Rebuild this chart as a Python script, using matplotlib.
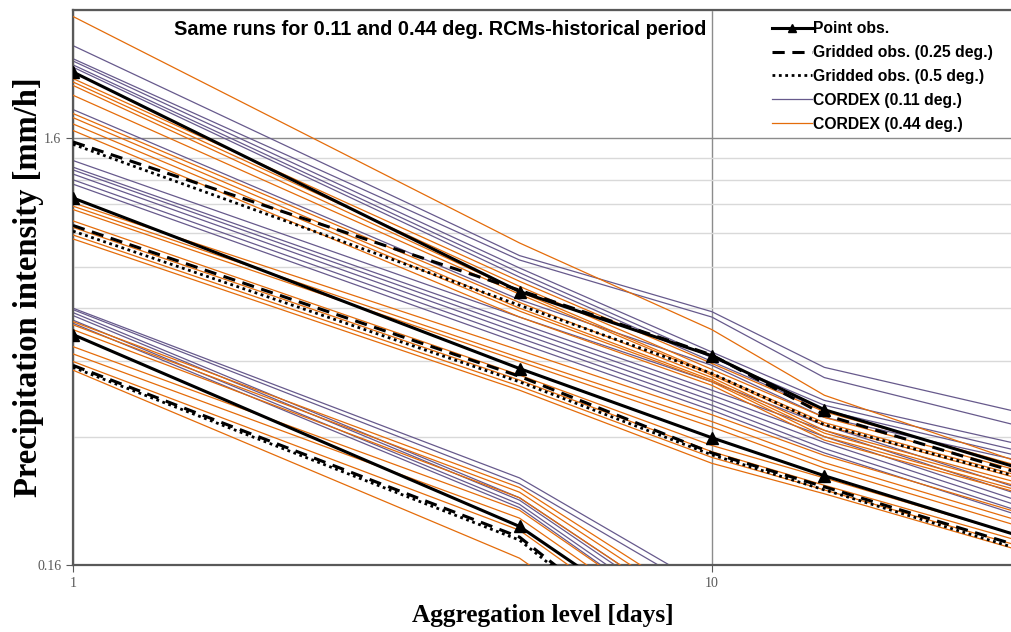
import matplotlib
matplotlib.use('Agg')
import matplotlib.pyplot as plt
from matplotlib.ticker import FixedLocator, NullFormatter

# aggregation levels [days]
days = [1, 5, 10, 15, 30]

# point observations (upper, middle, lower group)
point_top = [2.29, 0.70, 0.495, 0.37, 0.271]
point_mid = [1.16, 0.462, 0.318, 0.259, 0.188]
point_low = [0.555, 0.197, 0.097, 0.068, 0.036]

# gridded observations 0.25 deg
grid025_top = [1.57, 0.705, 0.497, 0.36, 0.264]
grid025_mid = [1.00, 0.443, 0.293, 0.244, 0.178]
grid025_low = [0.47, 0.186, 0.082, 0.06, 0.035]

# gridded observations 0.5 deg
grid05_top = [1.55, 0.65, 0.45, 0.341, 0.258]
grid05_mid = [0.97, 0.43, 0.29, 0.24, 0.175]
grid05_low = [0.465, 0.183, 0.08, 0.058, 0.034]

# CORDEX 0.11 deg runs
cordex011_top = [
    [2.64, 0.85, 0.628, 0.465, 0.366],
    [2.46, 0.83, 0.61, 0.44, 0.34],
    [2.43, 0.795, 0.505, 0.389, 0.308],
    [2.38, 0.775, 0.49, 0.379, 0.297],
    [2.35, 0.757, 0.48, 0.369, 0.289],
    [1.87, 0.67, 0.47, 0.355, 0.282],
]
cordex011_mid = [
    [1.42, 0.61, 0.43, 0.34, 0.243],
    [1.37, 0.59, 0.411, 0.331, 0.235],
    [1.35, 0.575, 0.40, 0.32, 0.227],
    [1.32, 0.56, 0.389, 0.31, 0.221],
    [1.28, 0.545, 0.379, 0.30, 0.215],
    [1.25, 0.53, 0.369, 0.293, 0.21],
]
cordex011_low = [
    [0.64, 0.256, 0.14, 0.10, 0.055],
    [0.635, 0.248, 0.135, 0.095, 0.05],
    [0.625, 0.23, 0.115, 0.082, 0.046],
    [0.615, 0.227, 0.112, 0.08, 0.045],
    [0.60, 0.222, 0.108, 0.075, 0.042],
    [0.59, 0.218, 0.105, 0.072, 0.04],
]

# CORDEX 0.44 deg runs
cordex044_top = [
    [3.09, 0.91, 0.57, 0.40, 0.28],
    [2.21, 0.74, 0.475, 0.366, 0.274],
    [2.17, 0.72, 0.46, 0.355, 0.267],
    [2.13, 0.70, 0.45, 0.345, 0.26],
    [2.02, 0.69, 0.446, 0.34, 0.256],
    [1.83, 0.66, 0.44, 0.331, 0.25],
    [1.79, 0.64, 0.434, 0.326, 0.245],
    [1.73, 0.63, 0.43, 0.32, 0.24],
    [1.67, 0.61, 0.422, 0.314, 0.237],
]
cordex044_mid = [
    [1.13, 0.51, 0.36, 0.289, 0.213],
    [1.11, 0.49, 0.347, 0.278, 0.204],
    [1.09, 0.48, 0.337, 0.27, 0.198],
    [1.025, 0.446, 0.305, 0.256, 0.188],
    [0.99, 0.434, 0.295, 0.246, 0.183],
    [0.95, 0.42, 0.286, 0.24, 0.178],
    [0.93, 0.411, 0.277, 0.235, 0.174],
]
cordex044_low = [
    [0.595, 0.243, 0.125, 0.088, 0.048],
    [0.585, 0.237, 0.12, 0.085, 0.046],
    [0.57, 0.23, 0.115, 0.082, 0.045],
    [0.52, 0.215, 0.105, 0.075, 0.042],
    [0.50, 0.206, 0.10, 0.071, 0.04],
    [0.48, 0.193, 0.092, 0.066, 0.037],
    [0.458, 0.166, 0.08, 0.058, 0.033],
]

PURPLE = '#675a8c'
ORANGE = '#e46c0a'
AXGRAY = '#595959'

fig = plt.figure(figsize=(10.12, 6.32), dpi=100)
ax = fig.add_axes([73 / 1012, 67 / 632, 939 / 1012, 555 / 632])
ax.set_xscale('log')
ax.set_yscale('log')
ax.set_xlim(1, 29.5)
ax.set_ylim(0.16, 3.2)

# CORDEX runs
for i, run in enumerate(cordex011_top + cordex011_mid + cordex011_low):
    ax.plot(days, run, color=PURPLE, lw=0.9, zorder=2,
            label='CORDEX (0.11 deg.)' if i == 0 else None)
for i, run in enumerate(cordex044_top + cordex044_mid + cordex044_low):
    ax.plot(days, run, color=ORANGE, lw=0.9, zorder=3,
            label='CORDEX (0.44 deg.)' if i == 0 else None)

# gridded obs
for i, g in enumerate([grid025_top, grid025_mid, grid025_low]):
    ax.plot(days, g, color='black', lw=2.2, ls=(0, (4, 2.5)), zorder=4,
            label='Gridded obs. (0.25 deg.)' if i == 0 else None)
for i, g in enumerate([grid05_top, grid05_mid, grid05_low]):
    ax.plot(days, g, color='black', lw=2.0, ls=(0, (1, 1.3)), zorder=4,
            label='Gridded obs. (0.5 deg.)' if i == 0 else None)

# point obs
for i, p in enumerate([point_top, point_mid, point_low]):
    ax.plot(days, p, color='black', lw=2.2, marker='^', ms=8, zorder=5,
            label='Point obs.' if i == 0 else None)

# grid lines like the excel chart
ax.yaxis.set_major_locator(FixedLocator([0.16, 1.6]))
ax.yaxis.set_minor_locator(FixedLocator([0.32, 0.48, 0.64, 0.8, 0.96, 1.12, 1.28, 1.44, 3.2]))
ax.xaxis.set_major_locator(FixedLocator([1, 10]))
ax.xaxis.set_minor_locator(FixedLocator([]))
ax.yaxis.set_minor_formatter(NullFormatter())
ax.set_yticklabels(['0.16', '1.6'])
ax.set_xticklabels(['1', '10'])
ax.grid(True, which='major', color='#8c8c8c', lw=1.0, zorder=0)
ax.grid(True, which='minor', axis='y', color='#d9d9d9', lw=1.0, zorder=0)
ax.set_axisbelow(True)

for s in ['left', 'bottom', 'top']:
    ax.spines[s].set_color(AXGRAY)
    ax.spines[s].set_linewidth(1.6)
ax.spines['right'].set_visible(False)
ax.tick_params(axis='both', which='major', direction='out', length=5, color=AXGRAY,
               labelsize=10, labelcolor=AXGRAY)
ax.tick_params(axis='y', which='minor', length=0)
for lab in ax.get_xticklabels() + ax.get_yticklabels():
    lab.set_fontfamily('Liberation Serif')

ax.set_xlabel('Aggregation level [days]', fontsize=18.3, fontweight='bold',
              family='Liberation Serif', labelpad=10)
ax.set_ylabel('Precipitation intensity [mm/h]', fontsize=23.5, fontweight='bold',
              family='Liberation Serif', labelpad=-5)

ax.text(0.391, 0.964, 'Same runs for 0.11 and 0.44 deg. RCMs-historical period',
        transform=ax.transAxes, ha='center', va='center', fontsize=14.3,
        fontweight='bold', family='Liberation Sans')

handles, labels = ax.get_legend_handles_labels()
order = ['Point obs.', 'Gridded obs. (0.25 deg.)', 'Gridded obs. (0.5 deg.)',
         'CORDEX (0.11 deg.)', 'CORDEX (0.44 deg.)']
hmap = dict(zip(labels, handles))
leg = ax.legend([hmap[k] for k in order], order, loc='upper left',
                bbox_to_anchor=(0.744, 0.980), frameon=False,
                prop={'family': 'Liberation Sans', 'weight': 'bold', 'size': 11.3},
                handlelength=2.55, handletextpad=0.08, labelspacing=0.57,
                borderpad=0, borderaxespad=0, markerscale=0.75)

fig.savefig('out.png', dpi=100)
